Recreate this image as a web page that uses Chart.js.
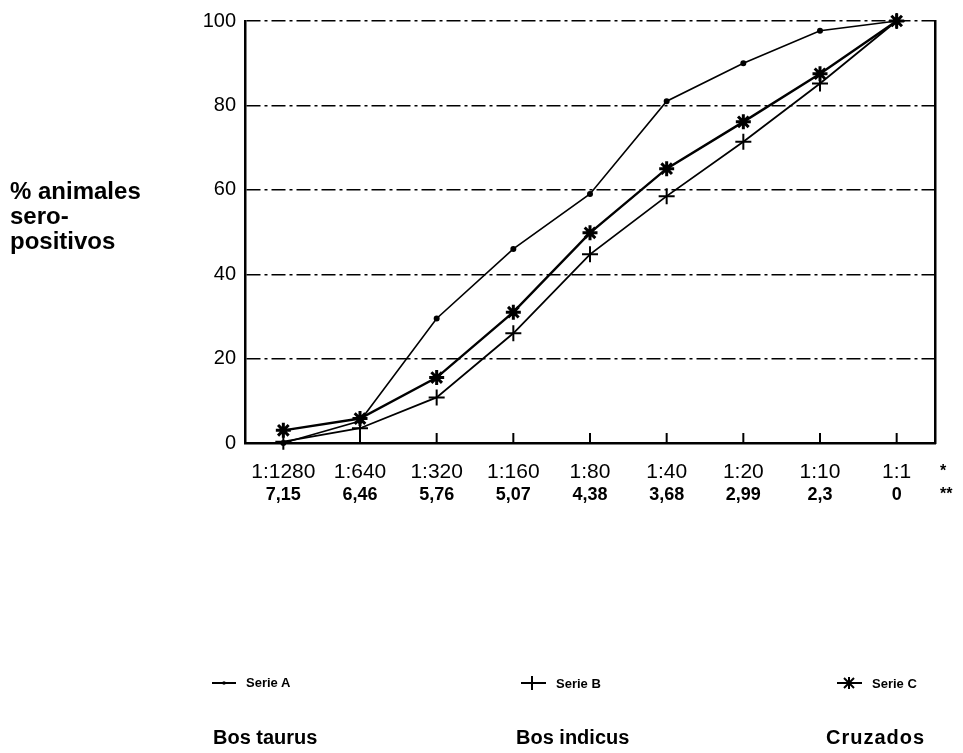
<!DOCTYPE html>
<html>
<head>
<meta charset="utf-8">
<script src="https://cdn.jsdelivr.net/npm/chart.js@4/dist/chart.umd.min.js"></script>
<style>
  html, body { margin: 0; padding: 0; background: #fff; }
  #wrap { position: relative; width: 963px; height: 753px; font-family: "Liberation Sans", Arial, sans-serif; color: #000; }
  #chartCanvas { position: absolute; left: 0; top: 0; }
  .txt { position: absolute; white-space: nowrap; font-weight: bold; }
  #ytitle { left: 10px; top: 178px; font-size: 24px; line-height: 25px; }
  .legend { top: 675px; font-size: 13px; display: flex; align-items: center; }
  .legend svg { margin-right: 10px; }
  .species { top: 726px; font-size: 20px; }
  .mark { font-size: 16px; }
</style>
</head>
<body>
<div id="wrap">
  <canvas id="chartCanvas" width="963" height="753"></canvas>
  <div class="txt" id="ytitle">% animales<br>sero-<br>positivos</div>
  <div class="txt mark" style="left:940px; top:462px;">*</div>
  <div class="txt mark" style="left:940px; top:485px;">**</div>

  <div class="txt legend" style="left:212px;">
    <svg width="24" height="10"><line x1="0" y1="5" x2="24" y2="5" stroke="#000" stroke-width="2"/><circle cx="12" cy="5" r="1.8" fill="#000"/></svg>Serie A
  </div>
  <div class="txt legend" style="left:521px;">
    <svg width="25" height="16"><line x1="0" y1="8" x2="25" y2="8" stroke="#000" stroke-width="2"/><line x1="11" y1="1" x2="11" y2="15" stroke="#000" stroke-width="2"/></svg>Serie B
  </div>
  <div class="txt legend" style="left:837px;">
    <svg width="25" height="16"><line x1="0" y1="8" x2="25" y2="8" stroke="#000" stroke-width="2"/><line x1="12" y1="2" x2="12" y2="14" stroke="#000" stroke-width="2"/><line x1="7" y1="3" x2="17" y2="13" stroke="#000" stroke-width="2"/><line x1="17" y1="3" x2="7" y2="13" stroke="#000" stroke-width="2"/></svg>Serie C
  </div>

  <div class="txt species" style="left:213px;">Bos taurus</div>
  <div class="txt species" style="left:516px;">Bos indicus</div>
  <div class="txt species" style="left:826px; letter-spacing:1px;">Cruzados</div>
</div>
<script>
const dilutions = ['1:1280', '1:640', '1:320', '1:160', '1:80', '1:40', '1:20', '1:10', '1:1'];
const logValues = ['7,15', '6,46', '5,76', '5,07', '4,38', '3,68', '2,99', '2,3', '0'];
const serieA = [0, 5.2, 29.5, 46, 59, 81, 90, 97.7, 100];
const serieB = [0.3, 3.5, 10.8, 26, 44.7, 58.5, 71.4, 85.2, 100];
const serieC = [3, 5.8, 15.5, 31, 49.8, 65, 76.1, 87.5, 100];
const yTicks = [0, 20, 40, 60, 80, 100];

// small tick marks pointing up into the plot at each category
const innerTicks = {
    id: 'innerTicks',
    afterDatasetsDraw(chart) {
        const ctx = chart.ctx;
        const xScale = chart.scales.x;
        const bottom = chart.chartArea.bottom;
        ctx.save();
        ctx.strokeStyle = '#000';
        ctx.lineWidth = 2;
        for (let i = 1; i < dilutions.length; i++) {
            const px = xScale.getPixelForTick(i);
            ctx.beginPath();
            ctx.moveTo(px, bottom);
            ctx.lineTo(px, bottom - 10);
            ctx.stroke();
        }
        ctx.restore();
    }
};

const ctx = document.getElementById('chartCanvas').getContext('2d');
new Chart(ctx, {
    type: 'line',
    data: {
        labels: dilutions,
        datasets: [
            {
                label: 'Serie A',
                data: serieA,
                borderColor: '#000',
                backgroundColor: '#000',
                borderWidth: 1.6,
                pointStyle: 'circle',
                pointRadius: 2.2,
                clip: false
            },
            {
                label: 'Serie B',
                data: serieB,
                borderColor: '#000',
                backgroundColor: '#000',
                borderWidth: 1.8,
                pointStyle: 'cross',
                pointRadius: 8,
                pointBorderWidth: 2,
                clip: false
            },
            {
                label: 'Serie C',
                data: serieC,
                borderColor: '#000',
                backgroundColor: '#000',
                borderWidth: 2.4,
                pointStyle: 'star',
                pointRadius: 7.5,
                pointBorderWidth: 3,
                clip: false
            }
        ]
    },
    options: {
        responsive: false,
        animation: false,
        layout: { padding: { top: 15, left: 0, right: 0, bottom: 0 } },
        plugins: {
            legend: { display: false },
            tooltip: { enabled: false }
        },
        scales: {
            x: {
                type: 'category',
                position: 'bottom',
                offset: true,
                weight: 1,
                grid: { display: false, drawTicks: false },
                border: { display: true, color: '#000', width: 2.5 },
                ticks: {
                    color: '#000',
                    font: { family: 'Liberation Sans', size: 21 },
                    padding: 17,
                    maxRotation: 0,
                    autoSkip: false
                },
                afterFit(scale) { scale.height = 36; }
            },
            x2: {
                type: 'category',
                labels: logValues,
                position: 'bottom',
                offset: true,
                weight: 2,
                grid: { display: false, drawTicks: false },
                border: { display: false },
                ticks: {
                    color: '#000',
                    font: { family: 'Liberation Sans', size: 18, weight: 'bold' },
                    padding: 5,
                    maxRotation: 0,
                    autoSkip: false
                },
                afterFit(scale) { scale.height = 274; }
            },
            y: {
                min: 0,
                max: 100,
                position: 'left',
                afterBuildTicks(scale) { scale.ticks = yTicks.map(v => ({ value: v })); },
                grid: { color: '#000', lineWidth: 1.4, drawTicks: false },
                border: { display: true, color: '#000', width: 2.5, dash: [14, 4, 3, 4] },
                ticks: {
                    color: '#000',
                    font: { family: 'Liberation Sans', size: 20 },
                    padding: 9
                },
                afterFit(scale) { scale.width = 245; }
            },
            y2: {
                position: 'right',
                grid: { display: false, drawTicks: false },
                border: { display: true, color: '#000', width: 2.5 },
                ticks: { display: false },
                afterFit(scale) { scale.width = 28; }
            }
        }
    },
    plugins: [innerTicks]
});
</script>
</body>
</html>
